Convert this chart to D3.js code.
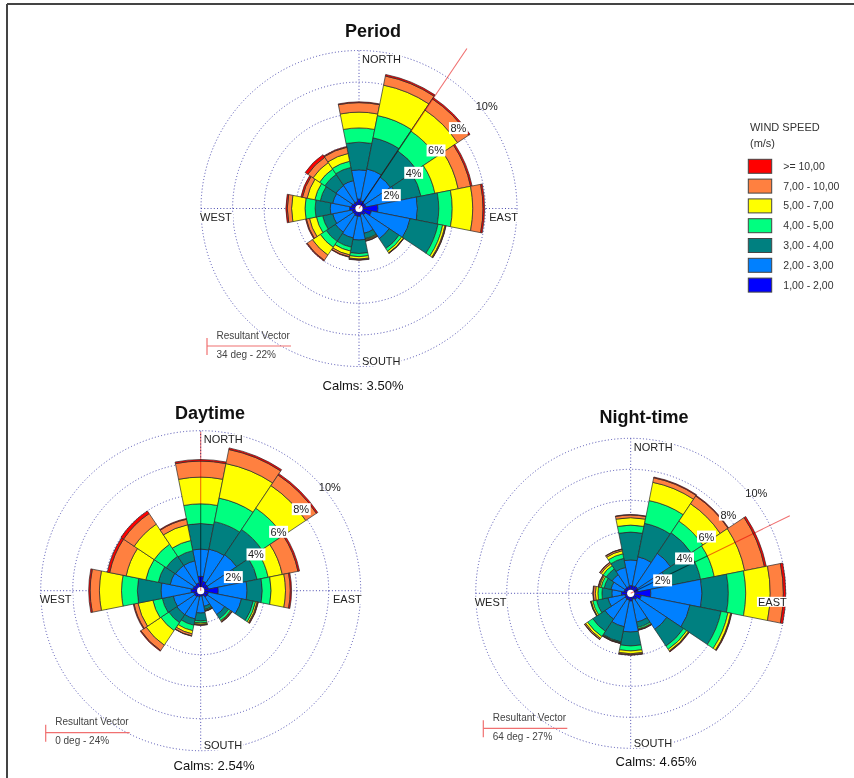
<!DOCTYPE html>
<html><head><meta charset="utf-8">
<script src="https://cdn.jsdelivr.net/npm/d3@7"></script>
<style>
body{margin:0;background:#fff;}
svg text{font-family:"Liberation Sans",Arial,Helvetica,sans-serif;}
</style>
</head><body>
<svg id="chart" width="854" height="778"></svg>
<script>
// ---------- DATA ----------
const directions = ["N","NNE","NE","ENE","E","ESE","SE","SSE","S","SSW","SW","WSW","W","WNW","NW","NNW"];
const speedClasses = ["1,00 - 2,00","2,00 - 3,00","3,00 - 4,00","4,00 - 5,00","5,00 - 7,00","7,00 - 10,00",">= 10,00"];
const speedColors = ["#0000ff","#0080ff","#008080","#00ff80","#ffff00","#ff8040","#ff0000"];
const ringTicks = [2,4,6,8,10];
const ringLabels = ["2%","4%","6%","8%","10%"];
const compassLabels = ["NORTH","EAST","SOUTH","WEST"];

// Frequencies (%) per speed class, 16 directions clockwise from N
const periodS1 = [0.6,0.5,0.45,0.45,1.2,0.8,0.5,0.4,0.5,0.5,0.45,0.45,0.6,0.5,0.45,0.45];
const periodS2 = [1.85,2.05,1.95,2.05,2.5,2.5,1.8,1.2,1.5,1.4,1.35,1.25,1.22,1.2,1.3,1.35];
const periodS3 = [1.75,2.01,2.0,1.5,1.35,1.8,0.75,0.35,0.85,0.6,0.7,0.65,0.96,0.8,0.85,0.85];
const periodS4 = [0.9,1.44,1.5,0.9,0.85,0.3,0.2,0.05,0.2,0.25,0.45,0.4,0.64,0.35,0.4,0.4];
const periodS5 = [1.0,1.96,1.6,1.5,1.3,0.15,0.13,0.05,0.15,0.25,0.6,0.45,0.85,0.5,0.5,0.5];
const periodS6 = [0.6,0.59,0.85,0.8,0.65,0.05,0.02,0.05,0.05,0.12,0.4,0.2,0.27,0.3,0.4,0.4];
const periodS7 = [0.05,0.1,0.1,0.1,0.1,0.02,0.02,0.02,0.03,0.03,0.05,0.05,0.09,0.1,0.2,0.05];

const dayS1 = [0.9,0.6,0.5,0.5,1.1,0.5,0.5,0.35,0.35,0.4,0.45,0.45,0.6,0.5,0.45,0.5];
const dayS2 = [1.7,2.05,2.2,1.9,1.8,2.1,1.3,0.65,1.05,1.4,1.35,1.3,1.88,1.45,1.45,1.4];
const dayS3 = [1.6,1.75,1.9,1.2,0.95,0.75,0.3,0.2,0.5,0.4,0.6,0.7,1.48,0.75,0.7,0.65];
const dayS4 = [1.23,1.5,1.6,0.7,0.55,0.15,0.15,0.05,0.12,0.35,0.6,0.6,0.99,0.8,0.9,0.65];
const dayS5 = [1.67,2.2,1.7,0.9,0.9,0.1,0.05,0.03,0.08,0.2,1.1,0.95,1.38,1.25,1.5,1.0];
const dayS6 = [1.0,0.9,0.8,1.0,0.3,0.05,0.05,0.02,0.05,0.13,0.4,0.25,0.58,1.05,0.8,0.35];
const dayS7 = [0.1,0.1,0.1,0.1,0.08,0.03,0.02,0.02,0.02,0.02,0.05,0.05,0.09,0.15,0.2,0.05];

const nightS1 = [0.5,0.5,0.55,0.5,1.3,0.7,0.5,0.4,0.5,0.45,0.45,0.4,0.6,0.45,0.45,0.45];
const nightS2 = [1.65,1.9,2.55,1.95,3.3,3.2,2.3,1.5,2.0,1.75,1.55,1.1,0.62,0.85,1.0,1.25];
const nightS3 = [1.8,2.2,1.6,2.15,1.7,2.05,1.3,0.35,0.9,1.0,0.95,0.75,0.64,0.45,0.45,0.6];
const nightS4 = [0.45,1.5,0.9,0.9,1.12,0.45,0.25,0.1,0.32,0.05,0.4,0.25,0.26,0.2,0.25,0.3];
const nightS5 = [0.48,1.2,1.35,2.0,1.58,0.18,0.13,0.05,0.18,0.03,0.15,0.1,0.16,0.1,0.15,0.2];
const nightS6 = [0.17,0.3,0.6,1.3,0.85,0.04,0.04,0.02,0.07,0.02,0.08,0.03,0.14,0.07,0.1,0.1];
const nightS7 = [0.03,0.05,0.05,0.12,0.15,0.03,0.03,0.02,0.03,0.02,0.02,0.02,0.03,0.03,0.02,0.02];

const roseTitles = ["Period","Daytime","Night-time"];
const calms = ["Calms: 3.50%","Calms: 2.54%","Calms: 4.65%"];
const resultantAngles = [34, 0, 64];
const resultantTexts = ["34 deg - 22%","0 deg - 24%","64 deg - 27%"];

// ---------- LAYOUT ----------
const layouts = [
  {cx:359, cy:208.5, R:158, tx:373, ty:37, calmX:363, calmY:390, vecLen:193, legX:207, legY:346},
  {cx:200.7, cy:590.7, R:160, tx:210, ty:419, calmX:214, calmY:770, vecLen:159, legX:45.7, legY:732.7},
  {cx:630.7, cy:593.3, R:155, tx:644, ty:423, calmX:656, calmY:766, vecLen:177, legX:483.3, legY:728.3}
];
const roseSeries = [
  [periodS1,periodS2,periodS3,periodS4,periodS5,periodS6,periodS7],
  [dayS1,dayS2,dayS3,dayS4,dayS5,dayS6,dayS7],
  [nightS1,nightS2,nightS3,nightS4,nightS5,nightS6,nightS7]
];

const svg = d3.select("#chart");
svg.append("rect").attr("width",854).attr("height",778).attr("fill","#fff");

// page frame
svg.append("line").attr("x1",7).attr("y1",4).attr("x2",854).attr("y2",4).attr("stroke","#444").attr("stroke-width",2);
svg.append("line").attr("x1",7).attr("y1",4).attr("x2",7).attr("y2",778).attr("stroke","#444").attr("stroke-width",2);

const gridColor = "#4b4bb0";
const step = Math.PI/8;

roseSeries.forEach((series, ri) => {
  const L = layouts[ri];
  const r = d3.scaleLinear().domain([0,10]).range([0,L.R]);
  const g = svg.append("g").attr("transform",`translate(${L.cx},${L.cy})`);

  // grid rings
  g.selectAll("circle.ring").data(ringTicks).join("circle")
    .attr("class","ring").attr("r",d=>r(d)).attr("fill","none")
    .attr("stroke",gridColor).attr("stroke-width",1).attr("stroke-dasharray","1,2.2");
  // axes
  g.append("line").attr("x1",0).attr("x2",0).attr("y1",-L.R).attr("y2",L.R)
    .attr("stroke",gridColor).attr("stroke-dasharray","1,2.2");
  g.append("line").attr("y1",0).attr("y2",0).attr("x1",-L.R).attr("x2",L.R)
    .attr("stroke",gridColor).attr("stroke-dasharray","1,2.2");

  // build segments
  const segs = [];
  directions.forEach((d, i) => {
    let cum = 0;
    series.forEach((s, k) => {
      const v = s[i];
      segs.push({i, k, r0:cum, r1:cum+v});
      cum += v;
    });
  });
  const arc = d3.arc()
    .innerRadius(d=>r(d.r0)).outerRadius(d=>r(d.r1))
    .startAngle(d=>d.i*step - step/2).endAngle(d=>d.i*step + step/2);
  g.selectAll("path.seg").data(segs).join("path")
    .attr("class","seg").attr("d",arc)
    .attr("fill",d=>speedColors[d.k])
    .attr("stroke","#2a2a2a").attr("stroke-width",0.7).attr("stroke-linejoin","miter");

  // center hole
  g.append("circle").attr("r",3.6).attr("fill","#fff");

  // resultant vector
  const a = resultantAngles[ri]*Math.PI/180;
  g.append("line").attr("x1",0).attr("y1",0)
    .attr("x2",Math.sin(a)*L.vecLen).attr("y2",-Math.cos(a)*L.vecLen)
    .attr("stroke","#f07070").attr("stroke-width",1.1)
    .style("mix-blend-mode","multiply");

  // ring labels
  ringTicks.forEach((t, j) => {
    const rr = r(t);
    const x = rr*Math.SQRT1_2 + (t===10 ? 16 : 10);
    const y = -rr*Math.SQRT1_2 + 9;
    const lg = g.append("g");
    const txt = lg.append("text").attr("x",x).attr("y",y+4).attr("text-anchor","middle")
      .attr("font-size",11).attr("fill","#222").text(ringLabels[j]);
    if (t !== 10) {
      const w = txt.node().getComputedTextLength();
      lg.insert("rect","text").attr("x",x-w/2-1.5).attr("y",y-6).attr("width",w+3).attr("height",12)
        .attr("fill","#fff");
    }
  });

  // compass labels
  const cpos = [
    {x:3, y:-L.R+12.5, anchor:"start"},
    {x:L.R+1, y:12.5, anchor:"end"},
    {x:3, y:L.R-1.5, anchor:"start"},
    {x:-L.R-1, y:12.5, anchor:"start"}
  ];
  compassLabels.forEach((lab, j) => {
    const p = cpos[j];
    const lg = g.append("g");
    const txt = lg.append("text").attr("x",p.x).attr("y",p.y).attr("text-anchor",p.anchor)
      .attr("font-size",11).attr("fill","#222").text(lab);
    const bb = txt.node().getBBox();
    lg.insert("rect","text").attr("x",bb.x-1).attr("y",bb.y+1).attr("width",bb.width+2).attr("height",bb.height-2)
      .attr("fill","#fff");
  });

  // title
  svg.append("text").attr("x",L.tx).attr("y",L.ty).attr("text-anchor","middle")
    .attr("font-size",18).attr("font-weight","bold").attr("fill","#111").text(roseTitles[ri]);
  // calms
  svg.append("text").attr("x",L.calmX).attr("y",L.calmY).attr("text-anchor","middle")
    .attr("font-size",13).attr("fill","#111").text(calms[ri]);

  // resultant vector legend
  const vg = svg.append("g").attr("transform",`translate(${L.legX},${L.legY})`);
  vg.append("line").attr("x1",0).attr("x2",84).attr("y1",0).attr("y2",0).attr("stroke","#f07070").attr("stroke-width",1.2);
  vg.append("line").attr("x1",0).attr("x2",0).attr("y1",-8).attr("y2",9).attr("stroke","#f07070").attr("stroke-width",1.2);
  vg.append("text").attr("x",9.5).attr("y",-7.5).attr("font-size",10).attr("fill","#444").text("Resultant Vector");
  vg.append("text").attr("x",9.5).attr("y",11.5).attr("font-size",10).attr("fill","#444").text(resultantTexts[ri]);
});

// legend
const leg = svg.append("g").attr("transform","translate(748.3,0)");
leg.append("text").attr("x",1.7).attr("y",130.5).attr("font-size",11).attr("fill","#333").text("WIND SPEED");
leg.append("text").attr("x",1.7).attr("y",147).attr("font-size",11).attr("fill","#333").text("(m/s)");
const legendOrder = d3.range(speedClasses.length).reverse();
leg.selectAll("rect.lb").data(legendOrder).join("rect").attr("class","lb")
  .attr("x",0).attr("y",(d,i)=>159.3+i*19.8).attr("width",23.4).attr("height",14)
  .attr("fill",d=>speedColors[d]).attr("stroke","#444").attr("stroke-width",1);
leg.selectAll("text.ll").data(legendOrder).join("text").attr("class","ll")
  .attr("x",35).attr("y",(d,i)=>159.3+i*19.8+10.5).attr("font-size",10.5).attr("fill","#333")
  .text(d=>speedClasses[d]);
</script>
</body></html>
